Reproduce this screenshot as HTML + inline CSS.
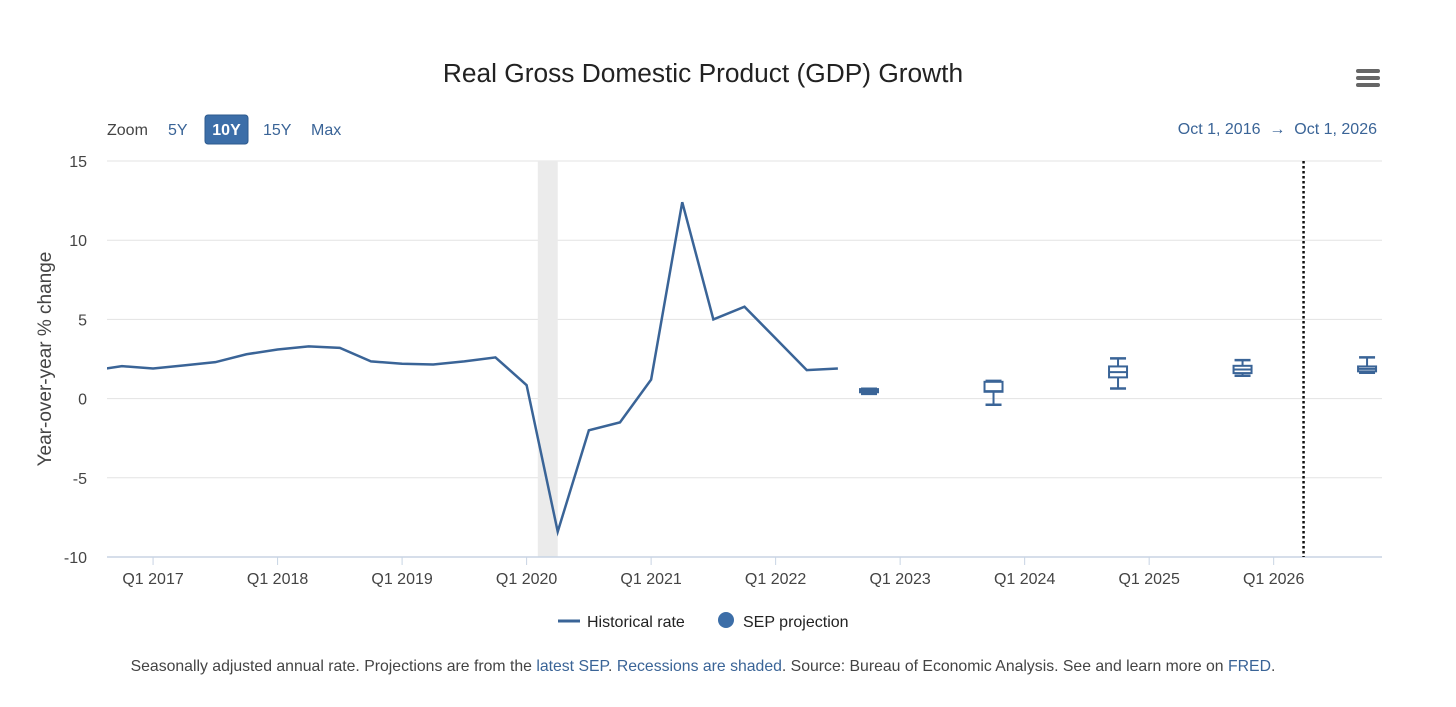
<!DOCTYPE html>
<html><head><meta charset="utf-8">
<style>
body{margin:0;background:#fff;width:1456px;height:702px;overflow:hidden;font-family:"Liberation Sans",sans-serif;}
svg text{font-family:"Liberation Sans",sans-serif;}
</style></head>
<body>
<svg id="chart" width="1456" height="702">
  <text x="703" y="82" text-anchor="middle" font-size="26.3" fill="#222">Real Gross Domestic Product (GDP) Growth</text>
  <g>
    <rect x="1356" y="69" width="24" height="4" rx="2" fill="#666"/>
    <rect x="1356" y="76" width="24" height="4" rx="2" fill="#666"/>
    <rect x="1356" y="83" width="24" height="4" rx="2" fill="#666"/>
  </g>
  <text x="107" y="135" font-size="16" fill="#444">Zoom</text>
  <text x="168" y="135" font-size="16" fill="#3a6497">5Y</text>
  <rect x="205" y="115" width="43" height="29" rx="3" fill="#3c6ea8" stroke="#2d5a8e"/>
  <text x="226.5" y="135" font-size="16" font-weight="bold" fill="#fff" text-anchor="middle">10Y</text>
  <text x="263" y="135" font-size="16" fill="#3a6497">15Y</text>
  <text x="311" y="135" font-size="16" fill="#3a6497">Max</text>
  <text x="1377" y="134" font-size="16" fill="#3a6497" text-anchor="end">Oct 1, 2016 &#160;→ &#160;Oct 1, 2026</text>
  <text transform="translate(51,359) rotate(-90)" font-size="19" fill="#444" text-anchor="middle">Year-over-year % change</text>
  <g id="grid"></g><g id="plot"></g>
  <g>
    <line x1="558" y1="621" x2="580" y2="621" stroke="#3a6497" stroke-width="3"/>
    <text x="587" y="627" font-size="16" fill="#222">Historical rate</text>
    <circle cx="726" cy="620" r="8" fill="#3c6ea8"/>
    <text x="743" y="627" font-size="16" fill="#222">SEP projection</text>
  </g>
  <text x="703" y="671" font-size="15.8" fill="#444" text-anchor="middle">Seasonally adjusted annual rate. Projections are from the <tspan fill="#3a6497">latest SEP</tspan>. <tspan fill="#3a6497">Recessions are shaded</tspan>. Source: Bureau of Economic Analysis. See and learn more on <tspan fill="#3a6497">FRED</tspan>.</text>
</svg>
<script>
const histDates=[2016.5,2016.75,2017,2017.25,2017.5,2017.75,2018,2018.25,2018.5,2018.75,2019,2019.25,2019.5,2019.75,2020,2020.25,2020.5,2020.75,2021,2021.25,2021.5,2021.75,2022,2022.25,2022.5];
const histValues=[1.75,2.05,1.9,2.1,2.3,2.8,3.1,3.3,3.2,2.35,2.2,2.15,2.35,2.6,0.85,-8.4,-2.0,-1.5,1.2,12.4,5.0,5.8,3.8,1.8,1.9];
const boxDates=[2022.75,2023.75,2024.75,2025.75,2026.75];
const boxLow=[0.3,-0.39,0.64,1.44,1.63];
const boxQ1=[0.4,0.43,1.34,1.61,1.72];
const boxMed=[0.5,0.47,1.67,1.84,1.88];
const boxQ3=[0.6,1.06,2.03,2.07,2.03];
const boxHigh=[0.62,1.12,2.54,2.43,2.6];
const yTicks=[15,10,5,0,-5,-10];
const xTickYears=[2017,2018,2019,2020,2021,2022,2023,2024,2025,2026];
const recession=[2020.09,2020.25];
const markerDate=2026.24;
const X0=107,X1=1382,T0=2016.63,T1=2026.87,Y0=557,Y1=161,V0=-10,V1=15;
const xs=t=>X0+(t-T0)/(T1-T0)*(X1-X0);
const ys=v=>Y0+(v-V0)/(V1-V0)*(Y1-Y0);
const NS='http://www.w3.org/2000/svg';
function mk(tag,attrs,parent){const e=document.createElementNS(NS,tag);for(const k in attrs)e.setAttribute(k,attrs[k]);parent.appendChild(e);return e;}
const grid=document.getElementById('grid'),plot=document.getElementById('plot');
const defs=mk('defs',{},plot);const cp=mk('clipPath',{id:'clip'},defs);mk('rect',{x:X0,y:Y1-10,width:X1-X0,height:Y0-Y1+20},cp);
yTicks.forEach(v=>{
  const l=mk('line',{x1:X0,x2:X1,y1:ys(v),y2:ys(v),stroke:'#e3e3e3','stroke-width':1},grid);
  
  
  const t=mk('text',{x:87,y:ys(v)+6,'text-anchor':'end','font-size':16,fill:'#444'},grid);t.textContent=v;
  
  
});
const rec=mk('rect',{x:xs(recession[0]),y:Y1,width:xs(recession[1])-xs(recession[0]),height:Y0-Y1,fill:'#ebebeb'},grid);


const ax=mk('line',{x1:X0,x2:X1,y1:Y0,y2:Y0,stroke:'#c8d4e4','stroke-width':1.5},grid);


xTickYears.forEach(yr=>{
  const x=xs(yr);
  mk('line',{x1:x,x2:x,y1:Y0,y2:Y0+8,stroke:'#c8d4e4'},grid);
  const t=mk('text',{x:x,y:584,'text-anchor':'middle','font-size':16,fill:'#444'},grid);t.textContent='Q1 '+yr;
  
  
});
const ml=mk('line',{x1:xs(markerDate),x2:xs(markerDate),y1:Y1,y2:Y0,stroke:'#111','stroke-width':2.5,'stroke-dasharray':'2.5 2.5'},plot);


const line=mk('polyline',{points:histDates.map((d,i)=>xs(d)+','+ys(histValues[i])).join(' '),fill:'none',stroke:'#3a6497','stroke-width':2.5,'clip-path':'url(#clip)'},plot);


boxDates.forEach((d,i)=>{
  const g=mk('g',{stroke:'#3a6497','stroke-width':2,fill:'#fff'},plot);
  
  
  const x=xs(d),w=18,cw=16;
  mk('line',{x1:x,x2:x,y1:ys(boxHigh[i]),y2:ys(boxLow[i])},g);
  mk('line',{x1:x-cw/2,x2:x+cw/2,y1:ys(boxHigh[i]),y2:ys(boxHigh[i]),'stroke-width':2.5},g);
  mk('line',{x1:x-cw/2,x2:x+cw/2,y1:ys(boxLow[i]),y2:ys(boxLow[i]),'stroke-width':2.5},g);
  mk('rect',{x:x-w/2,y:ys(boxQ3[i]),width:w,height:Math.max(1,ys(boxQ1[i])-ys(boxQ3[i]))},g);
  mk('line',{x1:x-w/2,x2:x+w/2,y1:ys(boxMed[i]),y2:ys(boxMed[i])},g);
});
</script>
</body></html>
